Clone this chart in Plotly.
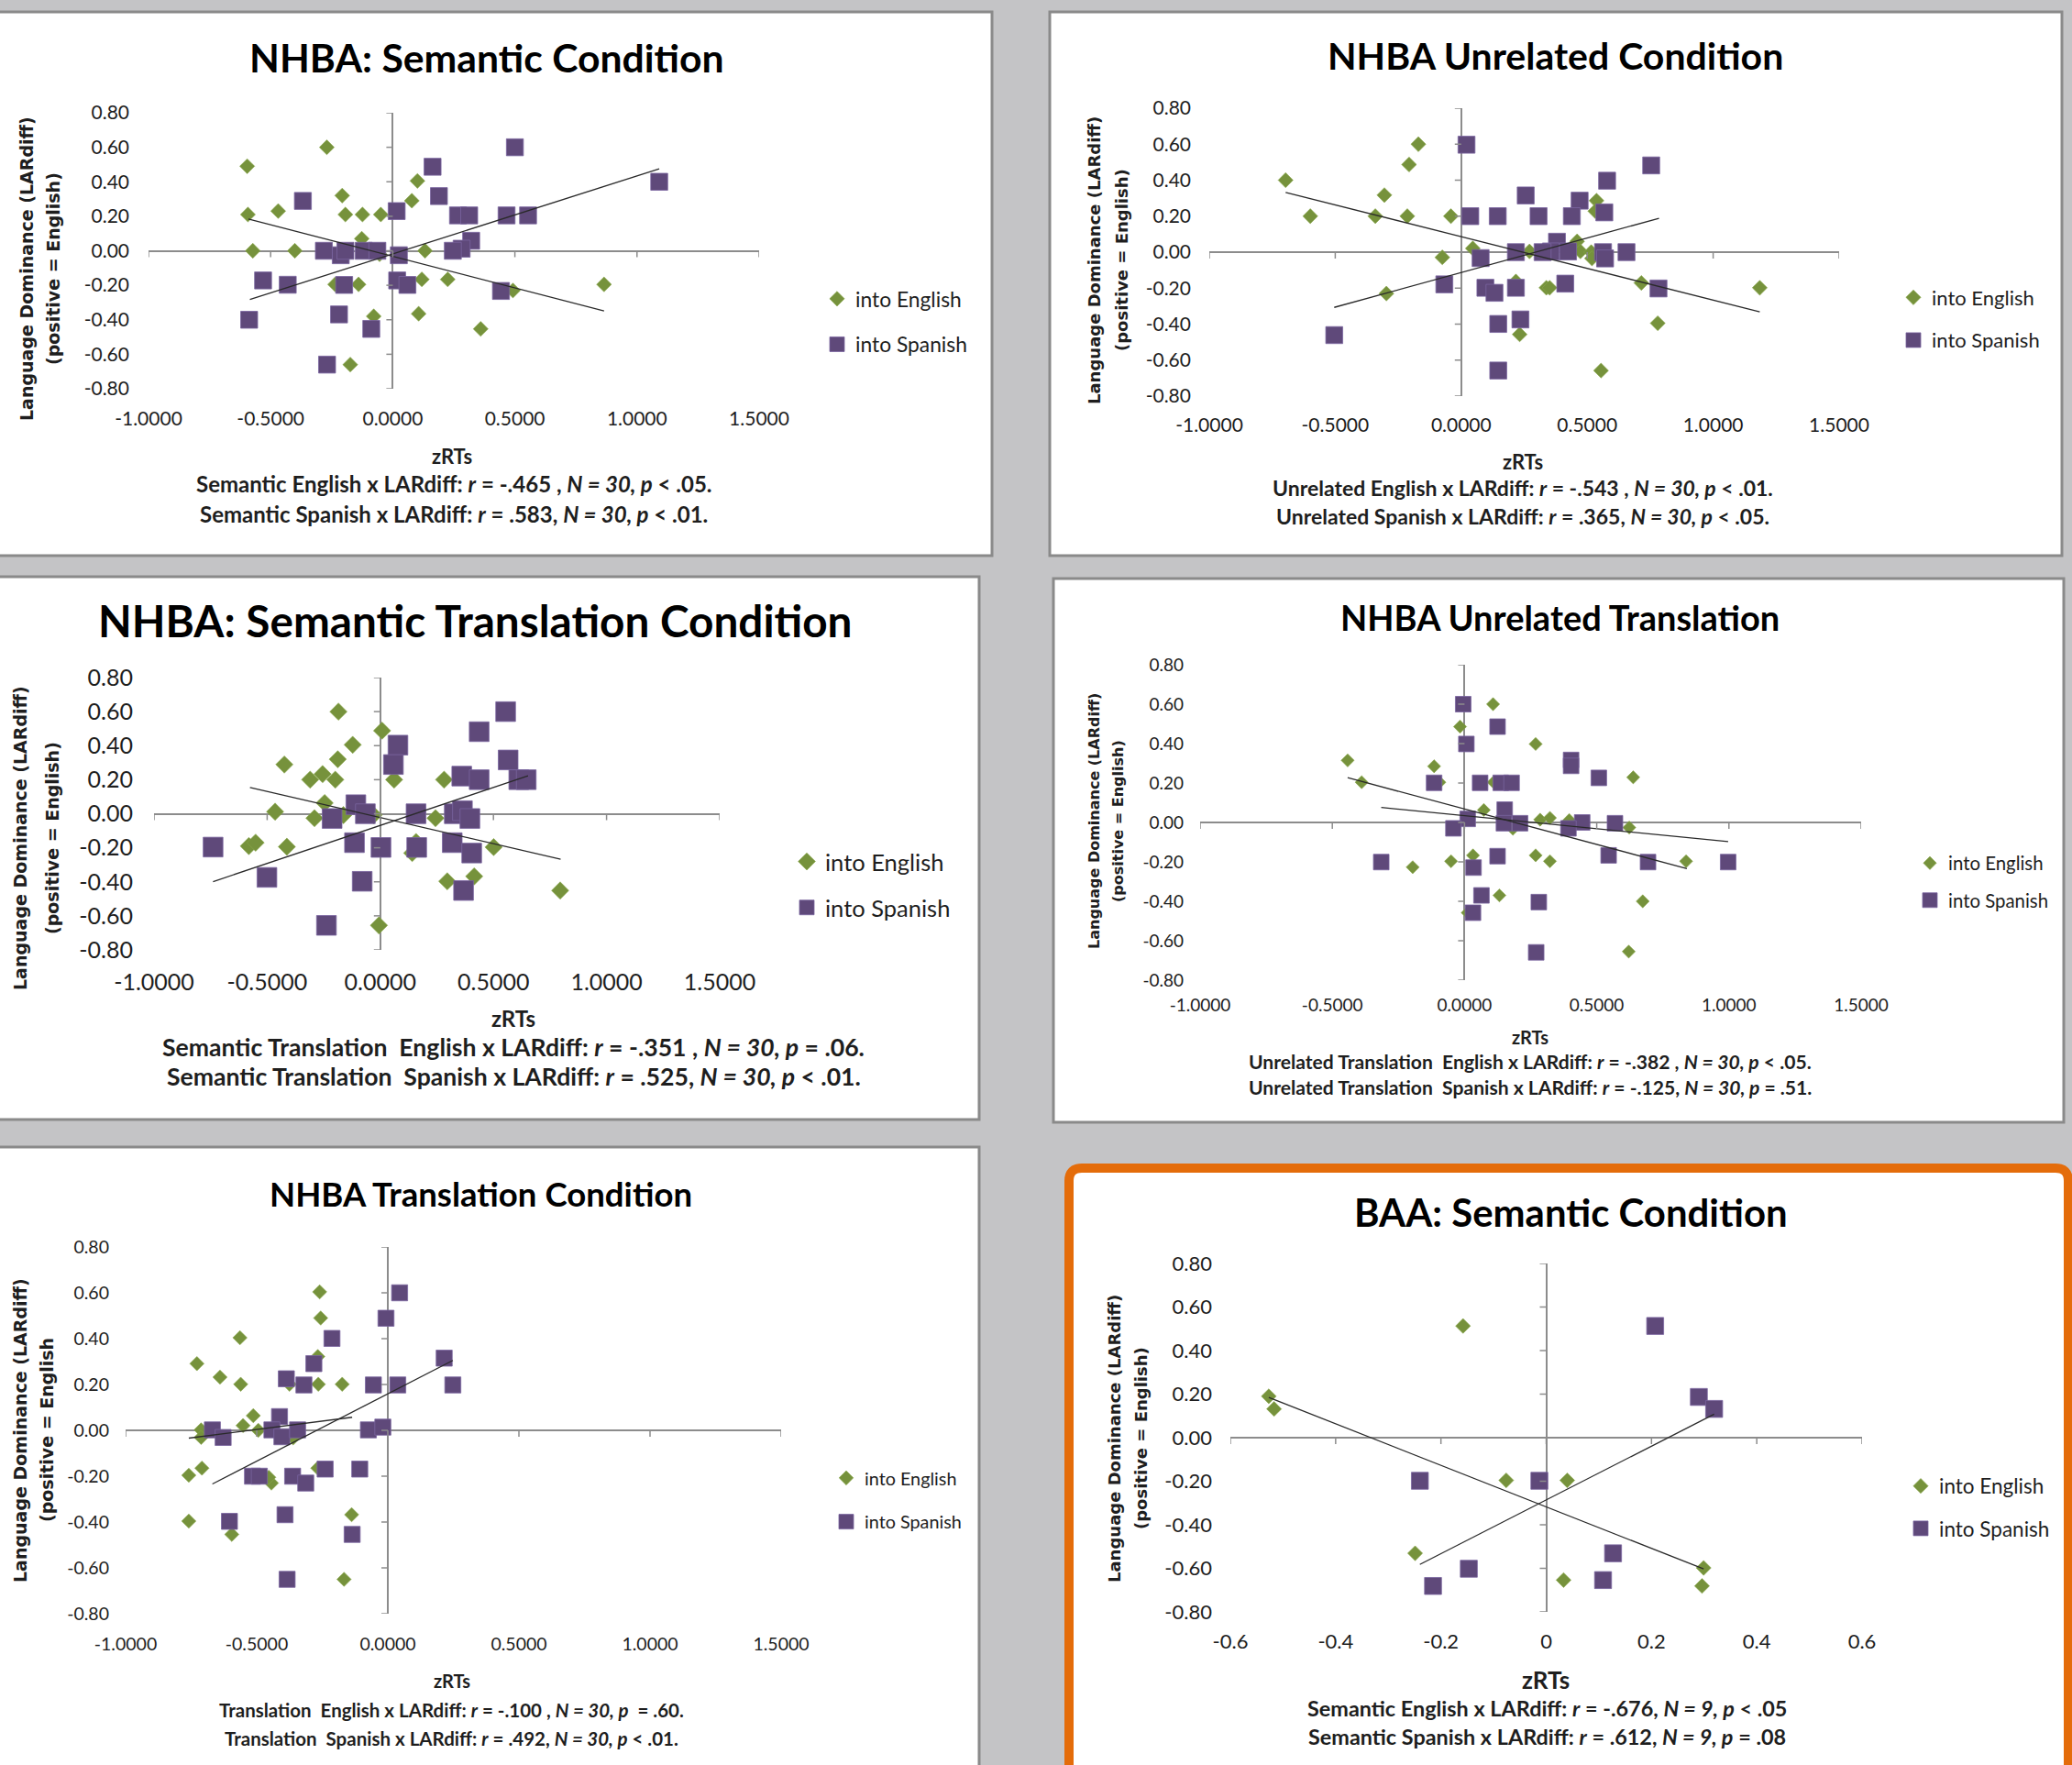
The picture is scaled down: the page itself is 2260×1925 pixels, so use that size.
import plotly.graph_objects as go

W, H = 2260, 1925

# ------------------------------------------------------------------ data
# Panel 1: NHBA Semantic Condition
p1_eng_x = [-0.596, -0.270, -0.593, -0.469, -0.207, -0.194, -0.124, -0.049, 0.101, 0.078, -0.573, -0.401, -0.127,
            -0.054, 0.132, -0.236, -0.140, 0.119, 0.225, 0.492, 0.865, 0.106, -0.078, 0.360, -0.174]
p1_eng_y = [0.49, 0.60, 0.21, 0.23, 0.32, 0.21, 0.21, 0.21, 0.405, 0.29, 0.00, 0.00, 0.07,
            -0.02, 0.00, -0.195, -0.195, -0.166, -0.166, -0.23, -0.195, -0.365, -0.38, -0.453, -0.66]
p1_spa_x = [0.500, 0.163, 1.091, -0.368, 0.189, 0.016, 0.267, 0.313, 0.466, 0.554, 0.321, 0.282, 0.246, -0.282,
            -0.213, -0.194, -0.119, -0.063, 0.025, -0.531, -0.430, -0.199, 0.018, 0.060, 0.443, -0.588, -0.220,
            -0.088, -0.269]
p1_spa_y = [0.60, 0.487, 0.40, 0.289, 0.317, 0.23, 0.205, 0.205, 0.205, 0.205, 0.058, 0.012, 0.0, 0.0,
            -0.026, 0.0, 0.0, 0.0, -0.026, -0.172, -0.197, -0.198, -0.172, -0.198, -0.233, -0.40, -0.369,
            -0.453, -0.66]
p1_eng_trend_x = [-0.591, 0.865]
p1_eng_trend_y = [0.184, -0.349]
p1_spa_trend_x = [-0.585, 1.091]
p1_spa_trend_y = [-0.283, 0.475]

# Panel 2: NHBA Unrelated Condition
p2_eng_x = [-0.697, -0.599, -0.305, -0.341, -0.214, -0.207, -0.170, -0.041, -0.297, -0.075, 0.046, 0.217, 0.232,
            0.271, 0.338, 0.351, 0.46, 0.473, 0.516, 0.519, 0.537, 0.532, 0.555, 0.715, 0.780, 1.185]
p2_eng_y = [0.40, 0.20, 0.317, 0.20, 0.20, 0.487, 0.60, 0.20, -0.23, -0.029, 0.021, -0.163, -0.457,
            0.004, -0.198, -0.198, 0.06, 0.004, 0.0, -0.035, 0.286, 0.228, -0.658, -0.171, -0.395, -0.198]
p2_spa_x = [0.021, 0.754, 0.579, 0.256, 0.470, 0.036, 0.145, 0.307, 0.439, 0.568, 0.380, 0.356, 0.323, 0.424,
            0.217, 0.563, 0.571, 0.656, 0.077, -0.067, 0.096, 0.132, 0.217, 0.413, 0.783, 0.147, 0.235, -0.504,
            0.147]
p2_spa_y = [0.597, 0.482, 0.397, 0.315, 0.286, 0.20, 0.20, 0.20, 0.20, 0.221, 0.058, 0.004, 0.0, 0.004,
            0.0, 0.0, -0.035, 0.0, -0.033, -0.179, -0.198, -0.226, -0.198, -0.175, -0.202, -0.399, -0.374, -0.461,
            -0.658]
p2_eng_trend_x = [-0.697, 1.185]
p2_eng_trend_y = [0.332, -0.332]
p2_spa_trend_x = [-0.504, 0.785]
p2_spa_trend_y = [-0.307, 0.188]

# Panel 3: NHBA Semantic Translation Condition
p3_eng_x = [-0.185, 0.008, -0.122, -0.424, -0.188, -0.310, -0.255, -0.199, 0.061, 0.282, -0.246, -0.465, -0.163,
            -0.291, -0.030, 0.244, -0.581, -0.551, -0.413, 0.158, 0.141, 0.501, 0.296, 0.415, 0.795, -0.006]
p3_eng_y = [0.60, 0.488, 0.405, 0.289, 0.32, 0.20, 0.233, 0.20, 0.20, 0.20, 0.063, 0.012, -0.008,
            -0.026, -0.008, -0.026, -0.19, -0.17, -0.194, -0.166, -0.231, -0.196, -0.397, -0.368, -0.451, -0.656]
p3_spa_x = [0.554, 0.437, 0.078, 0.058, 0.565, 0.360, 0.437, 0.612, 0.645, -0.108, -0.066, -0.213, 0.158, 0.327,
            0.363, 0.396, -0.739, -0.114, 0.003, 0.161, 0.318, 0.404, -0.501, -0.080, 0.368, -0.238]
p3_spa_y = [0.60, 0.482, 0.403, 0.289, 0.316, 0.221, 0.20, 0.20, 0.20, 0.053, 0.0, -0.028, 0.0, 0.0,
            0.018, -0.028, -0.196, -0.17, -0.198, -0.198, -0.17, -0.231, -0.374, -0.397, -0.451, -0.656]
p3_eng_trend_x = [-0.576, 0.797]
p3_eng_trend_y = [0.154, -0.267]
p3_spa_trend_x = [-0.739, 0.653]
p3_spa_trend_y = [-0.399, 0.223]

# Panel 4: NHBA Unrelated Translation
p4_eng_x = [0.108, -0.017, 0.269, -0.442, -0.115, -0.389, -0.095, 0.110, 0.638, 0.073, 0.286, 0.323, 0.396,
            0.183, 0.623, -0.196, -0.051, 0.032, 0.269, 0.323, 0.838, 0.132, 0.674, 0.012, 0.621]
p4_eng_y = [0.60, 0.486, 0.398, 0.315, 0.285, 0.204, 0.204, 0.204, 0.229, 0.063, 0.014, 0.023, 0.012,
            -0.032, -0.026, -0.227, -0.197, -0.167, -0.167, -0.197, -0.197, -0.37, -0.40, -0.458, -0.655]
p4_spa_x = [-0.005, 0.125, 0.007, 0.403, 0.403, 0.508, -0.115, 0.059, 0.137, 0.178, 0.152, 0.012, 0.149, 0.210,
            0.445, 0.569, 0.393, -0.042, -0.315, 0.125, 0.545, 0.694, 0.997, 0.034, 0.064, 0.281, 0.032, 0.271]
p4_spa_y = [0.60, 0.486, 0.398, 0.317, 0.287, 0.226, 0.201, 0.201, 0.201, 0.201, 0.065, 0.018, -0.004, -0.004,
            0.0, -0.004, -0.03, -0.03, -0.201, -0.171, -0.167, -0.201, -0.201, -0.229, -0.37, -0.404, -0.458, -0.659]
p4_eng_trend_x = [-0.442, 0.841]
p4_eng_trend_y = [0.227, -0.234]
p4_spa_trend_x = [-0.315, 0.997]
p4_spa_trend_y = [0.076, -0.097]

# Panel 5: NHBA Translation Condition
p5_eng_x = [-0.260, -0.256, -0.564, -0.728, -0.640, -0.561, -0.375, -0.265, -0.174, -0.267, -0.513, -0.552, -0.494,
            -0.712, -0.712, -0.361, -0.759, -0.709, -0.444, -0.454, -0.267, -0.759, -0.595, -0.138, -0.167]
p5_eng_y = [0.604, 0.49, 0.404, 0.291, 0.232, 0.201, 0.201, 0.201, 0.201, 0.322, 0.064, 0.021, 0.0,
            0.002, -0.031, -0.033, -0.196, -0.165, -0.23, -0.205, -0.165, -0.396, -0.454, -0.368, -0.65]
p5_spa_x = [0.045, -0.007, -0.213, -0.282, 0.215, -0.387, -0.320, -0.055, 0.038, 0.248, -0.413, -0.669, -0.628,
            -0.442, -0.404, -0.344, -0.074, -0.019, -0.516, -0.490, -0.363, -0.313, -0.239, -0.107, -0.392, -0.604,
            -0.136, -0.384]
p5_spa_y = [0.60, 0.489, 0.401, 0.291, 0.315, 0.225, 0.198, 0.198, 0.198, 0.198, 0.060, 0.002, -0.031,
            0.002, -0.028, 0.002, 0.002, 0.014, -0.20, -0.20, -0.20, -0.23, -0.169, -0.169, -0.368, -0.397,
            -0.454, -0.65]
p5_eng_trend_x = [-0.759, -0.136]
p5_eng_trend_y = [-0.034, 0.057]
p5_spa_trend_x = [-0.669, 0.248]
p5_spa_trend_y = [-0.234, 0.305]

# Panel 6: BAA Semantic Condition
p6_eng_x = [-0.158, -0.527, -0.517, -0.076, 0.040, -0.249, 0.033, 0.299, 0.296]
p6_eng_y = [0.513, 0.19, 0.132, -0.196, -0.196, -0.531, -0.654, -0.598, -0.681]
p6_spa_x = [0.207, 0.290, 0.319, -0.240, -0.013, 0.127, -0.147, 0.108, -0.215]
p6_spa_y = [0.513, 0.187, 0.132, -0.198, -0.198, -0.531, -0.602, -0.654, -0.681]
p6_eng_trend_x = [-0.527, 0.299]
p6_eng_trend_y = [0.185, -0.603]
p6_spa_trend_x = [-0.240, 0.319]
p6_spa_trend_y = [-0.582, 0.108]

# ticks
x_tickvals_nhba = [-1.0, -0.5, 0.0, 0.5, 1.0, 1.5]
x_ticktext_nhba = ["-1.0000", "-0.5000", "0.0000", "0.5000", "1.0000", "1.5000"]
x_tickvals_baa = [-0.6, -0.4, -0.2, 0.0, 0.2, 0.4, 0.6]
x_ticktext_baa = ["-0.6", "-0.4", "-0.2", "0", "0.2", "0.4", "0.6"]
y_tickvals = [-0.8, -0.6, -0.4, -0.2, 0.0, 0.2, 0.4, 0.6, 0.8]
y_ticktext = ["-0.80", "-0.60", "-0.40", "-0.20", "0.00", "0.20", "0.40", "0.60", "0.80"]

legend_names = ["into English", "into Spanish"]
y_title_line1 = "Language Dominance (LARdiff)"

# ------------------------------------------------------------------ styles
GREEN = "#76923C"
PURPLE = "#5F497A"
AXIS = "#8C8C8C"
TREND = "#2a2a2a"
TXT = "#1e1e1e"
BG = "#c4c4c6"
BORDER = "#8a8a8a"
ORANGE = "#E46C0A"
FONT = "Lato, 'Open Sans', sans-serif"
YFONT = "'DejaVu Sans', Verdana, sans-serif"


def px(x):
    return x / W


def py(y):
    return 1 - y / H


panels = [
    dict(box=(-6, 13, 1082, 606), plot=(162, 123, 828, 424), xr=[-1, 1.5],
         ticks=(x_tickvals_nhba, x_ticktext_nhba),
         title="NHBA: Semantic Condition", tpos=(531, 63), tsize=42.7,
         yt2="(positive = English)", ytx=(29, 58), yty=293, ytsize=19,
         zrts=(493, 498), zsize=22,
         caps=["Semantic English x LARdiff: <i>r</i> = -.465 , <i>N = 30, p</i> &lt; .05.",
               "Semantic Spanish x LARdiff: <i>r</i> = .583, <i>N = 30, p</i> &lt; .01."],
         capx=495, capy=(528, 560), csize=24,
         leg=(913, 351), lsize=22.8, lgap=17, tsize_tick=21, ystand=20, xstand=18, ds=12.5, ss=18.5,
         data=(p1_eng_x, p1_eng_y, p1_spa_x, p1_spa_y, p1_eng_trend_x, p1_eng_trend_y, p1_spa_trend_x,
               p1_spa_trend_y)),
    dict(box=(1145, 13, 2249, 606), plot=(1319, 118, 2006, 432), xr=[-1, 1.5],
         ticks=(x_tickvals_nhba, x_ticktext_nhba),
         title="NHBA Unrelated Condition", tpos=(1696, 61), tsize=41,
         yt2="(positive = English)", ytx=(1194, 1224), yty=284, ytsize=18,
         zrts=(1661, 503), zsize=22,
         caps=["Unrelated English x LARdiff: <i>r</i> = -.543 , <i>N = 30, p</i> &lt; .01.",
               "Unrelated Spanish x LARdiff: <i>r</i> = .365, <i>N = 30, p</i> &lt; .05."],
         capx=1661, capy=(532, 563), csize=23,
         leg=(2087, 348), lsize=22, lgap=15, tsize_tick=21, ystand=19, xstand=17, ds=12.5, ss=18.5,
         data=(p2_eng_x, p2_eng_y, p2_spa_x, p2_spa_y, p2_eng_trend_x, p2_eng_trend_y, p2_spa_trend_x,
               p2_spa_trend_y)),
    dict(box=(-6, 629, 1068, 1221), plot=(168, 739, 785, 1036), xr=[-1, 1.5],
         ticks=(x_tickvals_nhba, x_ticktext_nhba),
         title="NHBA: Semantic Translation Condition", tpos=(518, 677), tsize=47.7,
         yt2="(positive = English)", ytx=(22, 57), yty=914, ytsize=19,
         zrts=(560, 1110), zsize=24,
         caps=["Semantic Translation&nbsp; English x LARdiff: <i>r</i> = -.351 , <i>N = 30, p</i> = .06.",
               "Semantic Translation&nbsp; Spanish x LARdiff: <i>r</i> = .525, <i>N = 30, p</i> &lt; .01."],
         capx=560, capy=(1142, 1174), csize=26.6,
         leg=(880, 965), lsize=25.5, lgap=14, tsize_tick=25, ystand=22, xstand=18, ds=14.5, ss=21.5,
         data=(p3_eng_x, p3_eng_y, p3_spa_x, p3_spa_y, p3_eng_trend_x, p3_eng_trend_y, p3_spa_trend_x,
               p3_spa_trend_y)),
    dict(box=(1149, 631, 2251, 1224), plot=(1309, 725, 2030, 1069), xr=[-1, 1.5],
         ticks=(x_tickvals_nhba, x_ticktext_nhba),
         title="NHBA Unrelated Translation", tpos=(1701, 673), tsize=38,
         yt2="(positive = English)", ytx=(1193, 1219), yty=896, ytsize=16,
         zrts=(1669, 1131), zsize=20,
         caps=["Unrelated Translation&nbsp; English x LARdiff: <i>r</i> = -.382 , <i>N = 30, p</i> &lt; .05.",
               "Unrelated Translation&nbsp; Spanish x LARdiff: <i>r</i> = -.125, <i>N = 30, p</i> = .51."],
         capx=1669, capy=(1157, 1185), csize=21.1,
         leg=(2105, 962), lsize=20.4, lgap=11, tsize_tick=19, ystand=17, xstand=14, ds=11, ss=17,
         data=(p4_eng_x, p4_eng_y, p4_spa_x, p4_spa_y, p4_eng_trend_x, p4_eng_trend_y, p4_spa_trend_x,
               p4_spa_trend_y)),
    dict(box=(-6, 1251, 1068, 1935), plot=(137, 1360, 852, 1760), xr=[-1, 1.5],
         ticks=(x_tickvals_nhba, x_ticktext_nhba),
         title="NHBA Translation Condition", tpos=(524, 1302), tsize=36.6,
         yt2="(positive = English", ytx=(22, 51), yty=1560, ytsize=19,
         zrts=(493, 1833), zsize=20,
         caps=["Translation&nbsp; English x LARdiff: <i>r</i> = -.100 , <i>N = 30, p</i>&nbsp; = .60.",
               "Translation&nbsp; Spanish x LARdiff: <i>r</i> = .492, <i>N = 30, p</i> &lt; .01."],
         capx=492, capy=(1865, 1896), csize=20.5,
         leg=(923, 1636), lsize=19.8, lgap=19, tsize_tick=19.5, ystand=17, xstand=19, ds=12, ss=17.5,
         data=(p5_eng_x, p5_eng_y, p5_spa_x, p5_spa_y, p5_eng_trend_x, p5_eng_trend_y, p5_spa_trend_x,
               p5_spa_trend_y)),
    dict(box=None, plot=(1342, 1378, 2031, 1758), xr=[-0.6, 0.6],
         ticks=(x_tickvals_baa, x_ticktext_baa),
         title="BAA: Semantic Condition", tpos=(1713, 1322), tsize=41.9,
         yt2="(positive = English)", ytx=(1215, 1244), yty=1569, ytsize=18,
         zrts=(1686, 1832), zsize=26,
         caps=["Semantic English x LARdiff: <i>r</i> = -.676, <i>N = 9, p</i> &lt; .05",
               "Semantic Spanish x LARdiff: <i>r</i> = .612, <i>N = 9, p</i> = .08"],
         capx=1687, capy=(1863, 1894), csize=23.4,
         leg=(2095, 1644), lsize=22.5, lgap=14, tsize_tick=22, ystand=19, xstand=17, ds=12.5, ss=18.5,
         data=(p6_eng_x, p6_eng_y, p6_spa_x, p6_spa_y, p6_eng_trend_x, p6_eng_trend_y, p6_spa_trend_x,
               p6_spa_trend_y)),
]

fig = go.Figure()
shapes = []
annotations = []
layout = {}

# panel backgrounds
for p in panels:
    if p["box"] is None:
        continue
    x0, y0, x1, y1 = p["box"]
    shapes.append(dict(type="rect", xref="paper", yref="paper", layer="below",
                       x0=px(x0), x1=px(x1), y0=py(y1), y1=py(y0),
                       fillcolor="white", line=dict(color=BORDER, width=3)))

# orange highlighted panel with rounded corners
ox0, oy0, ox1, oy1, r = 1166, 1274, 2256, 1940, 14
path = (f"M {px(ox0)},{py(oy0 + r)} Q {px(ox0)},{py(oy0)} {px(ox0 + r)},{py(oy0)} "
        f"L {px(ox1 - r)},{py(oy0)} Q {px(ox1)},{py(oy0)} {px(ox1)},{py(oy0 + r)} "
        f"L {px(ox1)},{py(oy1)} L {px(ox0)},{py(oy1)} Z")
shapes.append(dict(type="path", xref="paper", yref="paper", layer="below", path=path,
                   fillcolor="white", line=dict(color=ORANGE, width=10)))

for i, p in enumerate(panels, start=1):
    sfx = "" if i == 1 else str(i)
    xa, ya = "x" + sfx, "y" + sfx
    leg = "legend" + sfx
    ex, ey, sx, sy, etx, ety, stx, sty = p["data"]

    fig.add_trace(go.Scatter(x=ex, y=ey, mode="markers", name=legend_names[0],
                             marker=dict(symbol="diamond", size=p["ds"], color=GREEN,
                                         line=dict(width=0.6, color="#8aa84c")),
                             xaxis=xa, yaxis=ya, legend=leg, legendgroup=f"{i}e"))
    fig.add_trace(go.Scatter(x=sx, y=sy, mode="markers", name=legend_names[1],
                             marker=dict(symbol="square", size=p["ss"], color=PURPLE,
                                         line=dict(width=0.8, color="#7a64a0")),
                             xaxis=xa, yaxis=ya, legend=leg, legendgroup=f"{i}s"))
    fig.add_trace(go.Scatter(x=etx, y=ety, mode="lines", line=dict(color=TREND, width=1.3),
                             xaxis=xa, yaxis=ya, showlegend=False, hoverinfo="skip"))
    fig.add_trace(go.Scatter(x=stx, y=sty, mode="lines", line=dict(color=TREND, width=1.3),
                             xaxis=xa, yaxis=ya, showlegend=False, hoverinfo="skip"))

    l, t, rr, b = p["plot"]
    tv, tt = p["ticks"]
    layout["xaxis" + sfx] = dict(domain=[px(l), px(rr)], range=p["xr"], anchor=ya,
                                 tickmode="array", tickvals=tv, ticktext=tt,
                                 showgrid=False, showline=False, ticks="", automargin=False,
                                 zeroline=True, zerolinecolor=AXIS, zerolinewidth=1.5,
                                 tickfont=dict(family=FONT, size=p["tsize_tick"], color=TXT),
                                 ticklabelstandoff=p["xstand"], fixedrange=True)
    layout["yaxis" + sfx] = dict(domain=[py(b), py(t)], range=[-0.8, 0.8], anchor=xa,
                                 tickmode="array", tickvals=y_tickvals, ticktext=y_ticktext,
                                 showgrid=False, showline=False, ticks="", automargin=False,
                                 zeroline=True, zerolinecolor=AXIS, zerolinewidth=1.5,
                                 tickfont=dict(family=FONT, size=p["tsize_tick"], color=TXT),
                                 ticklabelstandoff=p["ystand"], fixedrange=True)

    # Excel-style tick marks on the crossing axes
    for v in tv:
        shapes.append(dict(type="line", xref=xa, yref=ya, x0=v, x1=v, ysizemode="pixel", yanchor=0,
                           y0=0, y1=-7, line=dict(color=AXIS, width=1.5)))
    for v in y_tickvals:
        shapes.append(dict(type="line", xref=xa, yref=ya, y0=v, y1=v, xsizemode="pixel", xanchor=0,
                           x0=-7, x1=0, line=dict(color=AXIS, width=1.5)))

    # legend
    lx, ly = p["leg"]
    layout[leg] = dict(x=px(lx - 20), y=py(ly), xanchor="left", yanchor="middle",
                       bgcolor="rgba(0,0,0,0)", borderwidth=0, tracegroupgap=p["lgap"],
                       itemsizing="trace", font=dict(family=FONT, size=p["lsize"], color=TXT))

    # title
    tx, ty = p["tpos"]
    annotations.append(dict(text=f"<b>{p['title']}</b>", x=px(tx), y=py(ty), xref="paper", yref="paper",
                            xanchor="center", yanchor="middle", showarrow=False,
                            font=dict(family=FONT, size=p["tsize"], color="#000")))
    # y-axis title (two lines)
    for txt, xx in zip([y_title_line1, p["yt2"]], p["ytx"]):
        annotations.append(dict(text=f"<b>{txt}</b>", x=px(xx), y=py(p["yty"]), xref="paper", yref="paper",
                                xanchor="center", yanchor="middle", showarrow=False, textangle=-90,
                                font=dict(family=YFONT, size=p["ytsize"], color=TXT)))
    # x-axis title
    zx, zy = p["zrts"]
    annotations.append(dict(text="<b>zRTs</b>", x=px(zx), y=py(zy), xref="paper", yref="paper",
                            xanchor="center", yanchor="middle", showarrow=False,
                            font=dict(family=FONT, size=p["zsize"], color=TXT)))
    # captions
    for txt, cy in zip(p["caps"], p["capy"]):
        annotations.append(dict(text=f"<b>{txt}</b>", x=px(p["capx"]), y=py(cy), xref="paper", yref="paper",
                                xanchor="center", yanchor="middle", showarrow=False,
                                font=dict(family=FONT, size=p["csize"], color=TXT)))

fig.update_layout(width=W, height=H, margin=dict(l=0, r=0, t=0, b=0, pad=0, autoexpand=False),
                  paper_bgcolor=BG, plot_bgcolor="white", showlegend=True,
                  shapes=shapes, annotations=annotations, hovermode=False, **layout)

fig.write_html("out.html", config={"displayModeBar": False},
               post_script=f"document.body.style.margin='0';document.body.style.background='{BG}';")
